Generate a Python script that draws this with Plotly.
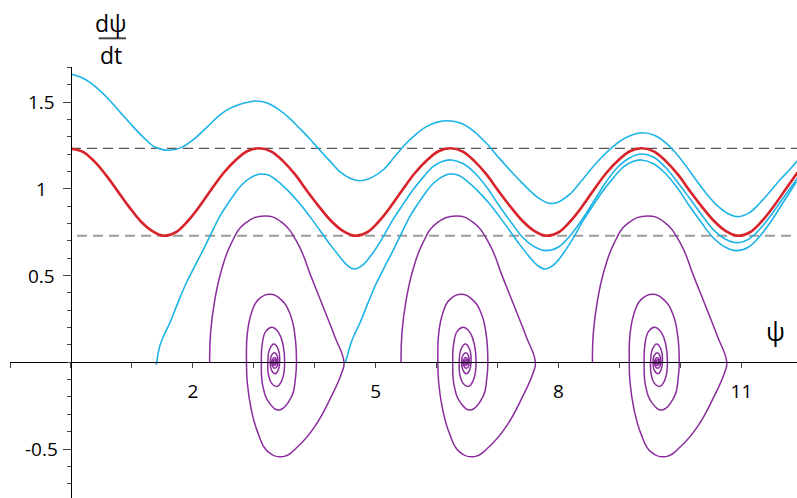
import plotly.graph_objects as go
import numpy as np

# ---- phase-plane data (psi, dpsi/dt) ----

# running limit cycle
red_psi = [0.00, 0.19, 0.38, 0.57, 0.76, 0.95, 1.14, 1.33, 1.52, 1.72, 1.91, 2.11, 2.30, 2.50,
           2.70, 2.89, 3.09, 3.29, 3.48, 3.68, 3.87, 4.07, 4.27, 4.46, 4.66, 4.86, 5.05, 5.25,
           5.44, 5.64, 5.84, 6.03, 6.23, 6.43, 6.62, 6.82, 7.01, 7.21, 7.41, 7.60, 7.80, 8.00,
           8.19, 8.39, 8.58, 8.78, 8.98, 9.17, 9.37, 9.57, 9.76, 9.96, 10.15, 10.35, 10.55,
           10.74, 10.94, 11.14, 11.33, 11.53, 11.72, 11.92]
red_dpsi = [1.232, 1.215, 1.160, 1.082, 0.990, 0.898, 0.815, 0.758, 0.730, 0.750, 0.812, 0.900,
            0.995, 1.090, 1.165, 1.217, 1.234, 1.215, 1.160, 1.082, 0.990, 0.898, 0.815, 0.758,
            0.730, 0.750, 0.812, 0.900, 0.995, 1.090, 1.165, 1.217, 1.234, 1.215, 1.160, 1.082,
            0.990, 0.898, 0.815, 0.758, 0.730, 0.750, 0.812, 0.900, 0.995, 1.090, 1.165, 1.217,
            1.234, 1.215, 1.160, 1.082, 0.990, 0.898, 0.815, 0.758, 0.730, 0.750, 0.812, 0.900,
            0.995, 1.095]

# trajectory approaching the cycle from above
top_psi = [0.00, 0.20, 0.40, 0.63, 0.82, 1.02, 1.19, 1.35, 1.49, 1.62, 1.81, 2.00, 2.22, 2.44,
           2.60, 2.75, 2.90, 3.04, 3.22, 3.40, 3.58, 3.75, 3.92, 4.08, 4.25, 4.41, 4.58, 4.74,
           4.93, 5.12, 5.31, 5.50, 5.67, 5.83, 6.01, 6.19, 6.40, 6.60, 6.82, 7.03, 7.25, 7.40,
           7.53, 7.68, 7.84, 8.00, 8.18, 8.35, 8.51, 8.70, 8.89, 9.10, 9.36, 9.57, 9.77, 9.94,
           10.10, 10.26, 10.42, 10.60, 10.77, 10.94, 11.12, 11.30, 11.47, 11.63, 11.80, 11.95]
top_dpsi = [1.663, 1.638, 1.590, 1.513, 1.437, 1.359, 1.297, 1.247, 1.228, 1.223, 1.238, 1.282,
            1.352, 1.426, 1.463, 1.485, 1.500, 1.507, 1.495, 1.460, 1.410, 1.350, 1.288, 1.224,
            1.160, 1.100, 1.062, 1.047, 1.065, 1.109, 1.185, 1.263, 1.318, 1.359, 1.385, 1.393,
            1.378, 1.335, 1.262, 1.176, 1.090, 1.035, 0.990, 0.945, 0.917, 0.925, 0.968, 1.035,
            1.105, 1.180, 1.243, 1.295, 1.324, 1.310, 1.263, 1.200, 1.128, 1.050, 0.975, 0.905,
            0.860, 0.840, 0.860, 0.917, 0.985, 1.051, 1.115, 1.175]

# trajectory leaving the psi axis near psi = 1.4
low1_psi = [1.40, 1.42, 1.455, 1.53, 1.62, 1.75, 1.89, 2.03, 2.17, 2.30, 2.44, 2.58, 2.71, 2.82,
            2.93, 3.03, 3.12, 3.25, 3.37, 3.56, 3.75, 3.92, 4.08, 4.25, 4.41, 4.53, 4.65, 4.80,
            4.95, 5.12, 5.28, 5.45, 5.61, 5.78, 5.94, 6.09, 6.24, 6.44, 6.63, 6.83, 7.02, 7.22,
            7.41, 7.61, 7.80, 8.00, 8.19, 8.39, 8.58, 8.78, 8.97, 9.17, 9.36, 9.56, 9.75, 9.95,
            10.15, 10.35, 10.54, 10.74, 10.94, 11.14, 11.33, 11.53, 11.72, 11.92]
low1_dpsi = [-0.015, 0.030, 0.090, 0.160, 0.225, 0.340, 0.456, 0.553, 0.648, 0.742, 0.840, 0.918,
             0.984, 1.030, 1.061, 1.079, 1.086, 1.078, 1.051, 0.990, 0.917, 0.840, 0.763, 0.680,
             0.609, 0.560, 0.538, 0.565, 0.629, 0.722, 0.821, 0.912, 0.994, 1.068, 1.128, 1.158,
             1.167, 1.145, 1.090, 1.005, 0.906, 0.808, 0.721, 0.665, 0.644, 0.665, 0.730, 0.825,
             0.930, 1.040, 1.125, 1.180, 1.201, 1.183, 1.126, 1.040, 0.946, 0.850, 0.765, 0.710,
             0.690, 0.715, 0.780, 0.870, 0.965, 1.062]

# trajectory leaving the saddle near psi = 4.5
low2_psi = [4.50, 4.53, 4.575, 4.65, 4.74, 4.87, 5.01, 5.15, 5.29, 5.42, 5.56, 5.70, 5.83, 5.94,
            6.05, 6.14, 6.23, 6.36, 6.48, 6.67, 6.86, 7.03, 7.19, 7.36, 7.52, 7.65, 7.78, 7.93,
            8.08, 8.25, 8.41, 8.58, 8.74, 8.91, 9.07, 9.22, 9.36, 9.56, 9.75, 9.95, 10.14, 10.34,
            10.53, 10.73, 10.92, 11.12, 11.31, 11.51, 11.70, 11.90]
low2_dpsi = [0.000, 0.030, 0.090, 0.160, 0.225, 0.340, 0.456, 0.553, 0.648, 0.742, 0.840, 0.918,
             0.984, 1.030, 1.061, 1.079, 1.086, 1.078, 1.051, 0.990, 0.917, 0.840, 0.763, 0.680,
             0.609, 0.560, 0.538, 0.565, 0.629, 0.722, 0.821, 0.912, 0.994, 1.068, 1.128, 1.158,
             1.167, 1.145, 1.090, 1.005, 0.906, 0.808, 0.721, 0.665, 0.644, 0.665, 0.730, 0.825,
             0.930, 1.040]

# spiral into the stable focus (first well)
spiral_psi = [2.276, 2.29, 2.36, 2.47, 2.63, 2.85, 3.18, 3.45, 3.72, 3.94, 4.16, 4.33, 4.48,
              4.44, 4.27, 4.00, 3.72, 3.48, 3.23, 3.07, 2.96, 2.894, 2.88,
              2.894, 2.96, 3.07, 3.26, 3.45, 3.59, 3.67, 3.70,
              3.68, 3.62, 3.42, 3.26, 3.15, 3.124,
              3.14, 3.20, 3.30, 3.41, 3.48, 3.506,
              3.48, 3.42, 3.37, 3.29, 3.24, 3.23,
              3.26, 3.33, 3.40, 3.424,
              3.40, 3.35, 3.29, 3.27,
              3.29, 3.34, 3.38, 3.395,
              3.38, 3.345, 3.31, 3.295,
              3.31, 3.34, 3.365, 3.375,
              3.36, 3.34, 3.32, 3.315,
              3.325, 3.34, 3.355, 3.36,
              3.345, 3.335, 3.34]
spiral_dpsi = [0.0, 0.167, 0.36, 0.532, 0.686, 0.80, 0.844, 0.81, 0.686, 0.494, 0.30, 0.148, 0.0,
               -0.063, -0.198, -0.371, -0.487, -0.544, -0.515, -0.41, -0.275, -0.121, 0.0,
               0.167, 0.283, 0.36, 0.392, 0.36, 0.283, 0.167, 0.0,
               -0.102, -0.198, -0.275, -0.237, -0.14, 0.0,
               0.11, 0.18, 0.202, 0.17, 0.10, 0.0,
               -0.085, -0.13, -0.14, -0.12, -0.07, 0.0,
               0.075, 0.105, 0.075, 0.0,
               -0.045, -0.066, -0.045, 0.0,
               0.04, 0.055, 0.04, 0.0,
               -0.025, -0.034, -0.025, 0.0,
               0.02, 0.028, 0.02, 0.0,
               -0.013, -0.018, -0.013, 0.0,
               0.01, 0.014, 0.01, 0.0,
               -0.008, 0.0, 0.004]
# the same spiral repeats in every potential well
well_offsets = [0.0, 3.14, 6.28]

# extremes of the limit cycle
cycle_max = 1.234
cycle_min = 0.730

x_ticks = [2, 5, 8, 11]
y_ticks = [-0.5, 0.5, 1, 1.5]
y_labels = ["-0.5", "0.5", "1", "1.5"]

CYAN = "#1cb3e6"
RED = "#d8232a"
PURPLE = "#8a2c9c"
FONT = "Open Sans"

X_RANGE = [-1.0, 11.912]
Y_RANGE = [-0.7826, 1.703]

fig = go.Figure()

fig.add_trace(go.Scatter(x=[0, X_RANGE[1]], y=[cycle_max, cycle_max], mode="lines",
                         line=dict(color="#555555", width=1.3, dash="10px,6px")))
fig.add_trace(go.Scatter(x=[0.1, X_RANGE[1]], y=[cycle_min, cycle_min], mode="lines",
                         line=dict(color="#9c9c9c", width=2, dash="10px,6px")))

for off in well_offsets:
    fig.add_trace(go.Scatter(x=np.array(spiral_psi) + off, y=spiral_dpsi, mode="lines",
                             line=dict(color=PURPLE, width=1.5, shape="spline", smoothing=1.3)))

for xs, ys in [(top_psi, top_dpsi), (low1_psi, low1_dpsi), (low2_psi, low2_dpsi)]:
    fig.add_trace(go.Scatter(x=xs, y=ys, mode="lines",
                             line=dict(color=CYAN, width=1.6, shape="spline", smoothing=1.0)))

fig.add_trace(go.Scatter(x=red_psi, y=red_dpsi, mode="lines",
                         line=dict(color=RED, width=2.6, shape="spline", smoothing=1.0)))

x_pos = (0 - Y_RANGE[0]) / (Y_RANGE[1] - Y_RANGE[0])
y_pos = (0 - X_RANGE[0]) / (X_RANGE[1] - X_RANGE[0])

fig.update_layout(
    width=797, height=498,
    margin=dict(l=10, r=0, t=67, b=0),
    paper_bgcolor="white", plot_bgcolor="white",
    showlegend=False,
    xaxis=dict(range=X_RANGE, anchor="free", position=x_pos,
               showline=True, linecolor="black", linewidth=1,
               showgrid=False, zeroline=False,
               tickmode="array", tickvals=x_ticks, ticktext=[str(t) for t in x_ticks],
               ticks="outside", ticklen=5, tickwidth=1, tickcolor="#444",
               minor=dict(tickmode="linear", tick0=0, dtick=1, ticks="outside",
                          ticklen=5, tickwidth=1, tickcolor="#444"),
               ticklabelstandoff=7,
               tickfont=dict(family=FONT, size=19, color="black")),
    yaxis=dict(range=Y_RANGE, anchor="free", position=y_pos,
               showline=True, linecolor="black", linewidth=1,
               showgrid=False, zeroline=False,
               tickmode="array", tickvals=y_ticks, ticktext=y_labels,
               showticklabels=False,
               ticks="outside", ticklen=8, tickwidth=1, tickcolor="#444",
               minor=dict(tickmode="linear", tick0=0, dtick=0.1, ticks="outside",
                          ticklen=4, tickwidth=1, tickcolor="#444")),
)

# vertical-axis labels, centred in a column left of the axis
for val, lab in zip(y_ticks, y_labels):
    fig.add_annotation(x=(41 - 10) / 787, y=val, xref="paper", yref="y", text=lab,
                       showarrow=False, xanchor="center", yanchor="middle",
                       font=dict(family=FONT, size=19, color="black"))

# axis titles: psi on the right, d psi / dt as a fraction above the vertical axis
fig.add_annotation(x=11.56, y=0.18, xref="x", yref="y", text="ψ", showarrow=False,
                   xanchor="center", yanchor="middle",
                   font=dict(family=FONT, size=25, color="black"))
fig.add_annotation(x=(111 - 10) / 787, y=(498 - 23) / 431, xref="paper", yref="paper",
                   text="dψ", showarrow=False, xanchor="center", yanchor="middle",
                   font=dict(family=FONT, size=23, color="black"))
fig.add_annotation(x=(111 - 10) / 787, y=(498 - 55) / 431, xref="paper", yref="paper",
                   text="dt", showarrow=False, xanchor="center", yanchor="middle",
                   font=dict(family=FONT, size=23, color="black"))
fig.add_shape(type="line", xref="paper", yref="paper",
              x0=(98.7 - 10) / 787, x1=(126 - 10) / 787,
              y0=(498 - 38.3) / 431, y1=(498 - 38.3) / 431,
              line=dict(color="#444", width=2))

fig.write_html("out.html")
